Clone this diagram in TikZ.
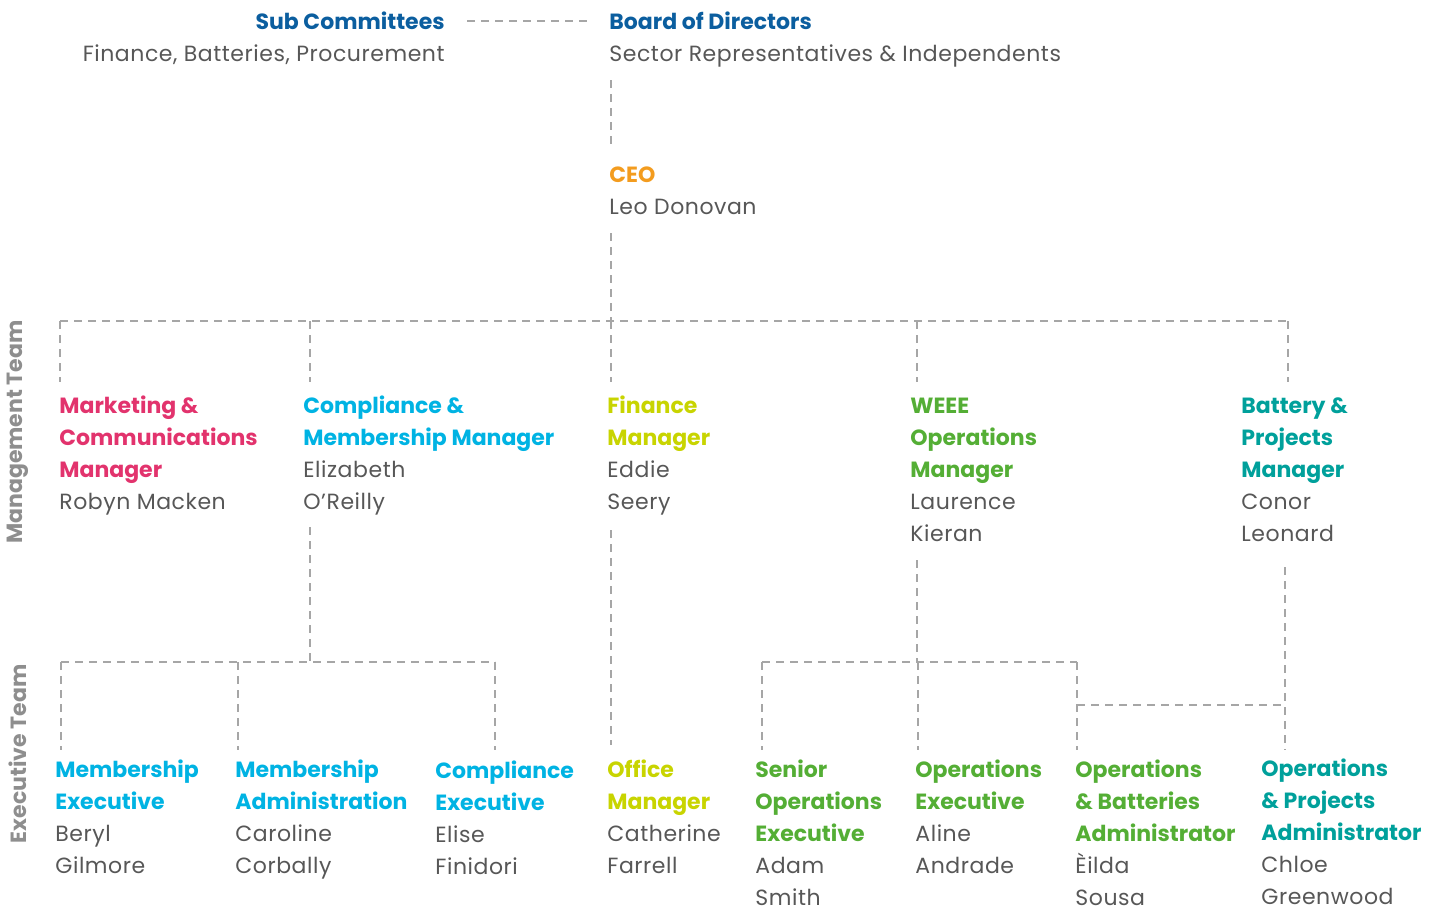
\documentclass[tikz,border=0pt]{standalone}
\usepackage{fontspec}
\setmainfont{Poppins}[LetterSpace=2.5,BoldFeatures={LetterSpace=0}]
\usetikzlibrary{positioning}
\definecolor{navy}{HTML}{0B5E9F}
\definecolor{ceoorange}{HTML}{F39C1F}
\definecolor{pink}{HTML}{E2336D}
\definecolor{cyan}{HTML}{00B3E3}
\definecolor{lime}{HTML}{C8D400}
\definecolor{green}{HTML}{54AE35}
\definecolor{teal}{HTML}{00A09B}
\definecolor{txtgrey}{HTML}{575757}
\definecolor{linegrey}{HTML}{A6A6A6}
\definecolor{sidegrey}{HTML}{8E8E8E}
\newcommand{\ttl}[2]{\textcolor{#1}{\bfseries #2}}

\begin{document}
\begin{tikzpicture}[
  x=0.5pt, y=-0.5pt,
  person/.style={anchor=base west,align=left,inner sep=0pt,text=txtgrey,font=\fontsize{11}{16}\selectfont},
  team/.style={rotate=90,inner sep=0pt,text=sidegrey,font=\bfseries\fontsize{11}{16}\selectfont},
  link/.style={draw=linegrey,line width=1pt,dash pattern=on 4pt off 3pt}
]
\useasboundingbox (0,0) rectangle (1443,910);
% node positions give the baseline of the last line
\node[person,anchor=base east,align=right] (subc) at (445,61) {\ttl{navy}{Sub Committees}\\Finance, Batteries, Procurement};
\node[person] (bod) at (609,61) {\ttl{navy}{Board of Directors}\\Sector Representatives \& Independents};
\node[person] (ceo) at (609,214) {\ttl{ceoorange}{CEO}\\Leo Donovan};
\node[person] (mcm) at (59,509) {\ttl{pink}{Marketing \&}\\\ttl{pink}{Communications}\\\ttl{pink}{Manager}\\Robyn Macken};
\node[person] (cmm) at (303,509) {\ttl{cyan}{Compliance \&}\\\ttl{cyan}{Membership Manager}\\Elizabeth\\O’Reilly};
\node[person] (fm) at (607,509) {\ttl{lime}{Finance}\\\ttl{lime}{Manager}\\Eddie\\Seery};
\node[person] (wom) at (910,541) {\ttl{green}{WEEE}\\\ttl{green}{Operations}\\\ttl{green}{Manager}\\Laurence\\Kieran};
\node[person] (bpm) at (1241,541) {\ttl{teal}{Battery \&}\\\ttl{teal}{Projects}\\\ttl{teal}{Manager}\\Conor\\Leonard};
\node[person] (me) at (55,873) {\ttl{cyan}{Membership}\\\ttl{cyan}{Executive}\\Beryl\\Gilmore};
\node[person] (ma) at (235,873) {\ttl{cyan}{Membership}\\\ttl{cyan}{Administration}\\Caroline\\Corbally};
\node[person] (ce) at (435,874) {\ttl{cyan}{Compliance}\\\ttl{cyan}{Executive}\\Elise\\Finidori};
\node[person] (om) at (607,873) {\ttl{lime}{Office}\\\ttl{lime}{Manager}\\Catherine\\Farrell};
\node[person] (soe) at (755,905) {\ttl{green}{Senior}\\\ttl{green}{Operations}\\\ttl{green}{Executive}\\Adam\\Smith};
\node[person] (oe) at (915,873) {\ttl{green}{Operations}\\\ttl{green}{Executive}\\Aline\\Andrade};
\node[person] (oba) at (1075,905) {\ttl{green}{Operations}\\\ttl{green}{\& Batteries}\\\ttl{green}{Administrator}\\Èilda\\Sousa};
\node[person] (opa) at (1261,904) {\ttl{teal}{Operations}\\\ttl{teal}{\& Projects}\\\ttl{teal}{Administrator}\\Chloe\\Greenwood};
\node[team] (mgmt) at (18,432) {Management Team};
\node[team] (exec) at (18,754) {Executive Team};
\coordinate (topbus) at (0,21);
\coordinate (mbus) at (0,321);
\coordinate (ebus) at (0,662);
\coordinate (bbus) at (0,705);
\draw[link] ([xshift=11pt]topbus -| subc.east) -- ([xshift=-10.5pt]topbus -| bod.west);
\draw[link] ([xshift=1pt]mbus -| bod.west) ++(0,-241) -- ++(0,68);
\draw[link] ([xshift=1pt]mbus -| ceo.west) ++(0,-88) -- ++(0,88);
\draw[link] ([xshift=0.5pt]mbus -| mcm.west) -- ([xshift=23.5pt]mbus -| bpm.west);
\foreach \n/\dx in {mcm/1,cmm/7,fm/4,wom/7,bpm/47}
  \draw[link] ([xshift=\dx*0.5pt]mbus -| \n.west) -- ++(0,61);
\draw[link] ([xshift=3.5pt]ebus -| cmm.west) ++(0,-135) -- ++(0,135);
\draw[link] ([xshift=3pt]ebus -| me.west) -- ([xshift=30pt]ebus -| ce.west);
\foreach \n/\dx in {me/6,ma/3,ce/60}
  \draw[link] ([xshift=\dx*0.5pt]ebus -| \n.west) -- ++(0,88);
\draw[link] ([xshift=2pt]ebus -| om.west) ++(0,-132) -- ++(0,215);
\draw[link] ([xshift=3.5pt]ebus -| wom.west) ++(0,-102) -- ++(0,102);
\draw[link] ([xshift=3.5pt]ebus -| soe.west) -- ([xshift=1pt]ebus -| oba.west);
\foreach \n/\dx in {soe/7,oe/3,oba/2}
  \draw[link] ([xshift=\dx*0.5pt]ebus -| \n.west) -- ++(0,88);
\draw[link] ([xshift=12pt]bbus -| opa.west) ++(0,-138) -- ++(0,183);
\draw[link] ([xshift=1pt]bbus -| oba.west) -- ([xshift=12pt]bbus -| opa.west);
\end{tikzpicture}
\end{document}
